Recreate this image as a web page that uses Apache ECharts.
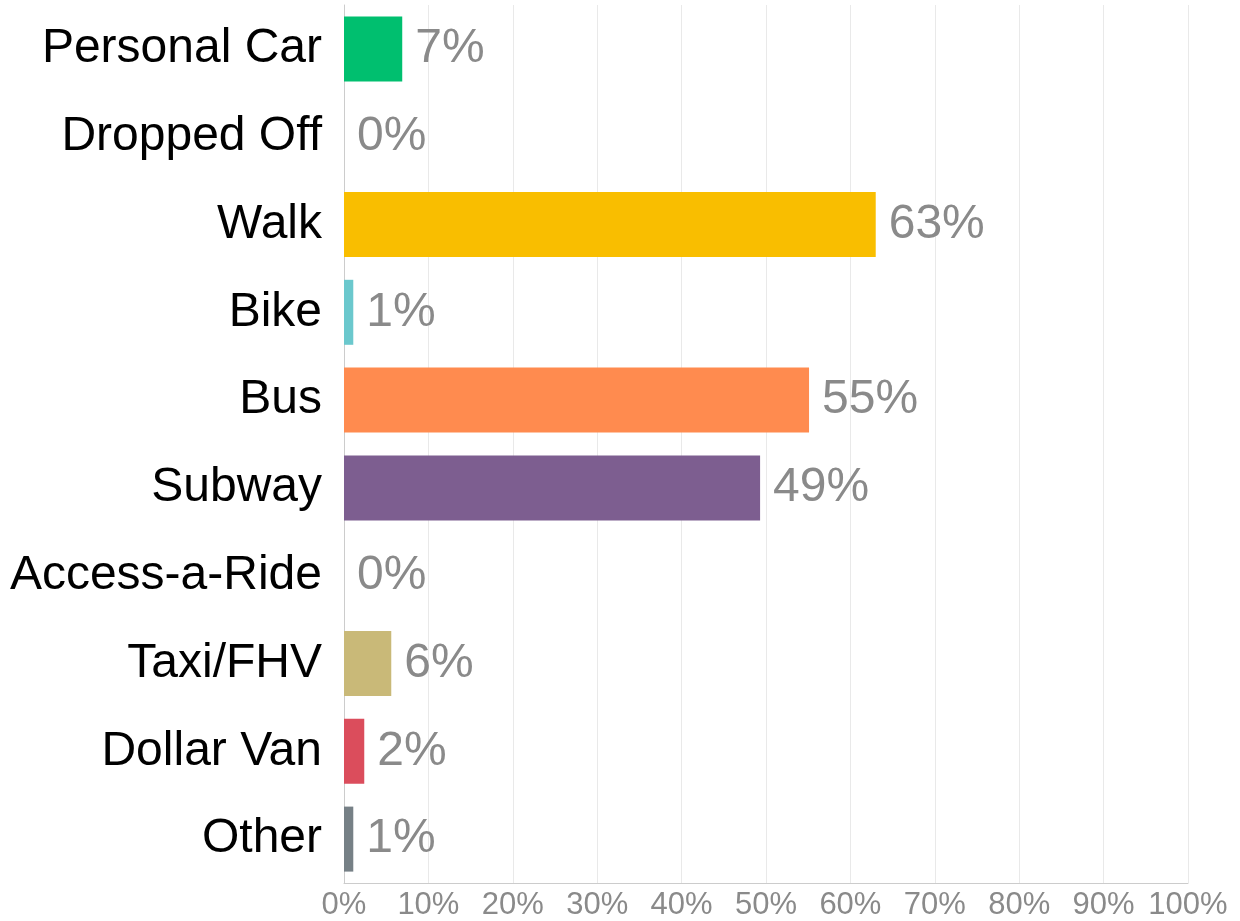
<!DOCTYPE html>
<html>
<head>
<meta charset="utf-8">
<script src="https://cdn.jsdelivr.net/npm/echarts@6/dist/echarts.min.js"></script>
<style>
  html, body { margin: 0; padding: 0; background: #fff; }
  #echart { width: 1240px; height: 921px; }
</style>
</head>
<body>
<div id="echart"></div>
<script>
var categories = ["Personal Car", "Dropped Off", "Walk", "Bike", "Bus", "Subway",
                  "Access-a-Ride", "Taxi/FHV", "Dollar Van", "Other"];
var shares = [6.9, 0, 63.0, 1.1, 55.1, 49.3, 0, 5.6, 2.4, 1.1];
var barColors = ["#00BF6F", "#00BF6F", "#F9BE00", "#6BC8CD", "#FF8B4F", "#7D5E90",
                 "#7D5E90", "#C9B978", "#DB4D5C", "#768086"];
var tickValues = [0, 10, 20, 30, 40, 50, 60, 70, 80, 90, 100];

var chartDom = document.getElementById('echart');
var myChart = echarts.init(chartDom);

var option = {
    animation: false,
    textStyle: { fontFamily: "Liberation Sans, Arial, sans-serif" },
    grid: { left: 344, right: 52, top: 5, bottom: 33, containLabel: false },
    xAxis: {
        type: "value",
        min: tickValues[0],
        max: tickValues[tickValues.length - 1],
        interval: 10,
        axisLine: { show: true, lineStyle: { color: "#cccccc", width: 1 } },
        axisTick: { show: false },
        splitLine: { show: true, lineStyle: { color: "#e9e9e9", width: 1 } },
        axisLabel: {
            color: "#8a8a8a",
            fontSize: 31,
            margin: 7,
            formatter: function (v) { return v + "%"; }
        }
    },
    yAxis: {
        type: "category",
        inverse: true,
        data: categories,
        axisLine: { show: true, lineStyle: { color: "#cccccc", width: 1 } },
        axisTick: { show: false },
        axisLabel: { color: "#000000", fontSize: 48, margin: 22, padding: [3, 0, 0, 0] }
    },
    series: [{
        name: "Share",
        type: "bar",
        barWidth: 65,
        data: shares.map(function (v, i) {
            return { value: v, itemStyle: { color: barColors[i] } };
        }),
        label: {
            show: true,
            position: "right",
            distance: 13,
            color: "#8a8a8a",
            fontSize: 48,
            padding: [4, 0, 0, 0],
            formatter: function (p) { return Math.round(p.value) + "%"; }
        }
    }]
};

myChart.setOption(option);

window.addEventListener("resize", function () {
    myChart.resize();
});
</script>
</body>
</html>
